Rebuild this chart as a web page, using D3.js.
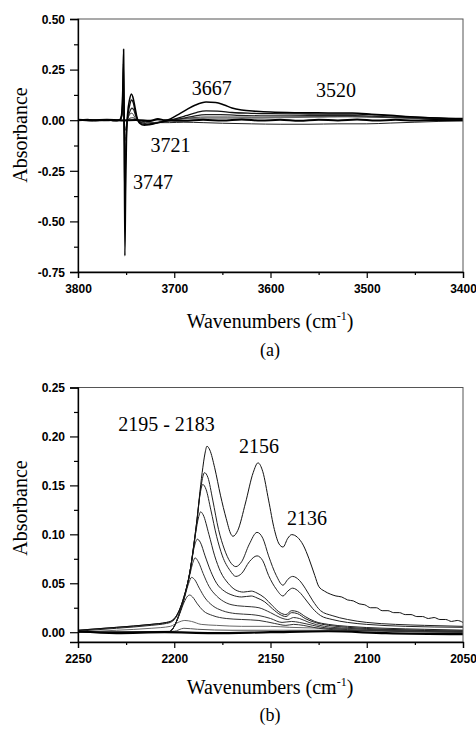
<!DOCTYPE html>
<html>
<head>
<meta charset="utf-8">
<script src="https://cdn.jsdelivr.net/npm/d3@7"></script>
<style>
  html, body { margin: 0; padding: 0; background: #fff; }
  svg { display: block; }
</style>
</head>
<body>
<svg id="chart" width="476" height="729"></svg>
<script>
// ---------- Panel (a): OH region ----------
const wnDomainA = [3800, 3400];
const absDomainA = [-0.75, 0.5];
const xTicksA = [3800, 3700, 3600, 3500, 3400];
const xMinorA = [3750, 3650, 3550, 3450];
const yTicksA = [-0.75, -0.5, -0.25, 0, 0.25, 0.5];
const yMinorA = [-0.625, -0.375, -0.125, 0.125, 0.375];
const peakLabelsA = [
  { text: "3667", wn: 3661, abs: 0.125 },
  { text: "3520", wn: 3532, abs: 0.115 },
  { text: "3721", wn: 3704, abs: -0.157 },
  { text: "3747", wn: 3722, abs: -0.34 }
];

const ohA1 = [[3800,0.0],[3790,0.003],[3780,-0.002],[3770,0.002],[3762,-0.003],[3757,0.0],[3755,0.02],[3753.5,0.15],[3752.6,0.35],[3752.1,0.1],[3751.3,-0.67],[3750.5,-0.35],[3749.5,-0.06],[3748.5,0.03],[3746.5,0.1],[3744.5,0.13],[3743,0.115],[3741,0.07],[3739,0.02],[3736,-0.015],[3731,-0.025],[3726,-0.022],[3721,-0.018],[3716,-0.012],[3710,-0.004],[3704,0.006],[3697,0.025],[3688,0.05],[3678,0.075],[3667,0.09],[3657,0.088],[3648,0.075],[3640,0.06],[3630,0.05],[3615,0.044],[3600,0.04],[3570,0.037],[3540,0.036],[3515,0.035],[3495,0.03],[3475,0.024],[3455,0.017],[3435,0.012],[3415,0.009],[3400,0.008]];
const ohA2 = [[3800,0.002],[3785,-0.002],[3770,0.001],[3760,-0.002],[3756,0.0],[3754,0.05],[3752.8,0.28],[3752.2,0.05],[3751.5,-0.37],[3750.5,-0.18],[3749.5,-0.03],[3748,0.03],[3746,0.08],[3744.5,0.1],[3742.5,0.085],[3740.5,0.04],[3738,0.0],[3734,-0.018],[3728,-0.022],[3721,-0.016],[3714,-0.01],[3706,-0.002],[3698,0.008],[3688,0.022],[3677,0.038],[3667,0.046],[3655,0.045],[3640,0.038],[3620,0.034],[3600,0.032],[3570,0.031],[3540,0.03],[3510,0.03],[3490,0.026],[3470,0.02],[3450,0.015],[3430,0.011],[3400,0.007]];
const ohA3 = [[3800,-0.002],[3785,0.001],[3770,-0.002],[3760,0.001],[3756,0.0],[3754,0.04],[3753,0.18],[3752.3,0.02],[3751,-0.21],[3750,-0.12],[3749,-0.02],[3747.5,0.02],[3745.5,0.05],[3744,0.06],[3742,0.05],[3740,0.02],[3737,-0.005],[3732,-0.015],[3726,-0.018],[3720,-0.014],[3712,-0.008],[3704,-0.002],[3695,0.006],[3682,0.018],[3667,0.028],[3652,0.028],[3635,0.024],[3610,0.022],[3580,0.022],[3550,0.023],[3520,0.024],[3495,0.02],[3470,0.015],[3445,0.01],[3420,0.006],[3400,0.004]];
const ohA4 = [[3800,0.0],[3780,0.002],[3765,-0.001],[3757,0.0],[3754.5,0.03],[3753.3,0.1],[3752.5,0.0],[3751,-0.1],[3749.8,-0.05],[3748.5,0.0],[3746,0.03],[3744,0.035],[3741,0.015],[3737,-0.005],[3730,-0.012],[3722,-0.012],[3714,-0.007],[3705,-0.001],[3690,0.008],[3667,0.016],[3645,0.016],[3620,0.015],[3590,0.016],[3560,0.017],[3530,0.018],[3500,0.016],[3470,0.012],[3440,0.008],[3400,0.003]];
const ohA5 = [[3800,0.0],[3775,-0.002],[3760,0.0],[3755,0.01],[3753,0.05],[3752,0.0],[3750.5,-0.05],[3749,-0.01],[3746,0.01],[3743,0.012],[3738,0.0],[3730,-0.008],[3720,-0.012],[3705,-0.012],[3690,-0.01],[3670,-0.012],[3650,-0.015],[3620,-0.018],[3590,-0.02],[3560,-0.02],[3530,-0.018],[3500,-0.018],[3475,-0.014],[3450,-0.01],[3425,-0.006],[3400,-0.003]];
const ohA6 = [[3800,0.002],[3785,-0.001],[3770,0.002],[3755,-0.001],[3740,0.001],[3725,-0.004],[3717,0.006],[3710,0.0],[3690,-0.003],[3670,0.002],[3650,-0.002],[3630,0.003],[3610,-0.002],[3590,0.002],[3570,-0.003],[3550,0.002],[3530,-0.001],[3510,0.003],[3490,-0.002],[3470,0.002],[3450,-0.002],[3430,0.001],[3400,0.0]];
const ohA7 = [[3800,0.0],[3760,0.0],[3740,0.0],[3720,0.0],[3700,0.004],[3667,0.01],[3630,0.01],[3590,0.012],[3550,0.015],[3520,0.018],[3490,0.015],[3460,0.01],[3430,0.006],[3400,0.003]];

// ---------- Panel (b): CO region ----------
const wnDomainB = [2250, 2050];
const absDomainB = [-0.01, 0.25];
const xTicksB = [2250, 2200, 2150, 2100, 2050];
const xMinorB = [2225, 2175, 2125, 2075];
const yTicksB = [0, 0.05, 0.1, 0.15, 0.2, 0.25];
const yMinorB = [0.025, 0.075, 0.125, 0.175, 0.225];
const peakLabelsB = [
  { text: "2195 - 2183", wn: 2204, abs: 0.206 },
  { text: "2156", wn: 2156, abs: 0.183 },
  { text: "2136", wn: 2131, abs: 0.11 }
];

const coB1 = [[2250,0.002],[2230,0.005],[2212,0.008],[2204,0.01],[2202,0.011],[2199.5,0.015],[2197.5,0.022],[2195,0.036],[2192,0.06],[2188.5,0.11],[2185.5,0.163],[2184,0.183],[2183,0.19],[2181.5,0.186],[2179,0.168],[2176,0.14],[2173,0.116],[2170.5,0.1],[2169.5,0.098],[2167,0.104],[2163,0.132],[2159,0.163],[2156.5,0.173],[2154,0.164],[2151,0.135],[2148,0.105],[2145.5,0.09],[2143.5,0.087],[2141,0.096],[2139,0.0997],[2136,0.097],[2133,0.089],[2130,0.075],[2127,0.058],[2125,0.047],[2122,0.042],[2119,0.039],[2116,0.037],[2113,0.036],[2110,0.033],[2107,0.032],[2104,0.029],[2101,0.028],[2098,0.025],[2095,0.025],[2092,0.022],[2089,0.022],[2086,0.02],[2083,0.02],[2080,0.018],[2077,0.018],[2074,0.016],[2071,0.016],[2068,0.014],[2065,0.015],[2062,0.013],[2059,0.013],[2056,0.011],[2053,0.012],[2050,0.01]];
const coB2 = [[2250,0.002],[2230,0.005],[2212,0.008],[2204,0.01],[2202,0.011],[2199.5,0.015],[2197.5,0.022],[2195,0.036],[2192,0.06],[2188.5,0.11],[2186,0.15],[2184.3,0.163],[2182.5,0.158],[2180,0.135],[2177,0.105],[2174,0.085],[2171,0.072],[2168,0.067],[2165,0.072],[2161,0.09],[2157,0.102],[2154,0.096],[2151,0.078],[2147,0.058],[2143.5,0.048],[2141,0.054],[2138.5,0.057],[2135,0.053],[2132,0.045],[2128,0.032],[2124,0.022],[2118,0.017],[2110,0.013],[2100,0.01],[2085,0.008],[2070,0.007],[2050,0.006]];
const coB3 = [[2250,0.001],[2230,0.004],[2212,0.007],[2204,0.009],[2202,0.01],[2199.5,0.014],[2197.5,0.021],[2195,0.035],[2192,0.06],[2188.5,0.108],[2186.5,0.142],[2185.2,0.151],[2183.5,0.146],[2181,0.125],[2178,0.098],[2175,0.078],[2171,0.063],[2168,0.057],[2165,0.06],[2161,0.072],[2157,0.078],[2154,0.073],[2151,0.058],[2147,0.044],[2143.5,0.037],[2141,0.042],[2138.5,0.045],[2135,0.041],[2132,0.034],[2128,0.024],[2124,0.017],[2118,0.013],[2110,0.01],[2100,0.008],[2080,0.006],[2050,0.005]];
const coB4 = [[2250,0.0],[2220,0.0],[2204,0.0],[2202,0.001],[2199.5,0.008],[2197.5,0.018],[2195,0.034],[2192,0.06],[2189,0.1],[2187.3,0.118],[2186.3,0.123],[2185,0.12],[2182,0.1],[2179,0.078],[2176,0.062],[2172,0.05],[2168,0.043],[2164,0.041],[2160,0.042],[2157,0.04],[2153,0.035],[2149,0.027],[2145,0.02],[2142,0.018],[2139,0.022],[2136,0.021],[2132,0.016],[2127,0.011],[2120,0.008],[2110,0.006],[2090,0.004],[2070,0.003],[2050,0.002]];
const coB5 = [[2250,0.0],[2220,0.0],[2204,0.0],[2202,0.001],[2199.5,0.008],[2197.5,0.018],[2195,0.034],[2192,0.06],[2189.5,0.088],[2188,0.095],[2186.5,0.092],[2184,0.078],[2181,0.062],[2178,0.05],[2174,0.042],[2170,0.038],[2165,0.036],[2160,0.037],[2157,0.035],[2153,0.031],[2149,0.024],[2145,0.018],[2142,0.016],[2139,0.02],[2136,0.019],[2132,0.014],[2127,0.01],[2120,0.007],[2110,0.005],[2090,0.003],[2050,0.001]];
const coB6 = [[2250,0.0],[2204,0.0],[2202,0.001],[2199.5,0.008],[2197.5,0.018],[2195,0.034],[2192,0.058],[2190,0.073],[2189.2,0.076],[2187.5,0.072],[2185,0.06],[2182,0.047],[2178,0.037],[2173,0.03],[2167,0.027],[2160,0.026],[2156,0.025],[2150,0.02],[2145,0.015],[2141,0.013],[2138,0.015],[2135,0.014],[2130,0.01],[2122,0.006],[2110,0.004],[2090,0.002],[2050,0.0]];
const coB7 = [[2250,0.0],[2204,0.0],[2202,0.001],[2199.5,0.008],[2197.5,0.018],[2195,0.033],[2192.5,0.05],[2191,0.056],[2189.5,0.054],[2187,0.045],[2184,0.035],[2180,0.027],[2175,0.022],[2168,0.019],[2160,0.018],[2156,0.017],[2150,0.014],[2144,0.01],[2139,0.011],[2135,0.01],[2128,0.007],[2120,0.004],[2100,0.002],[2050,0.0]];
const coB8 = [[2250,0.0],[2204,0.0],[2202,0.001],[2199.5,0.008],[2197.5,0.017],[2195,0.03],[2193,0.037],[2192,0.038],[2190.5,0.036],[2188,0.029],[2185,0.022],[2180,0.017],[2173,0.014],[2165,0.013],[2156,0.012],[2148,0.009],[2142,0.007],[2138,0.008],[2133,0.007],[2125,0.004],[2110,0.002],[2050,0.0]];
const coB9 = [[2250,0.0],[2230,0.002],[2212,0.004],[2202,0.006],[2198,0.01],[2194.5,0.012],[2191,0.011],[2186,0.008],[2178,0.007],[2165,0.006],[2150,0.006],[2140,0.005],[2120,0.004],[2100,0.003],[2050,0.002]];
const coB10 = [[2250,0.0],[2200,0.001],[2195,0.004],[2188,0.003],[2170,0.002],[2120,0.002],[2050,0.001]];
const coB11 = [[2250,0.001],[2230,-0.001],[2205,0.0],[2180,-0.001],[2150,0.0],[2120,0.001],[2090,-0.001],[2050,-0.002]];

// ---------- drawing ----------
const SERIF = "'Liberation Serif', 'DejaVu Serif', serif";
const SANS = "'Liberation Sans', Arial, sans-serif";
const svg = d3.select("#chart");
svg.append("rect").attr("width", 476).attr("height", 729).attr("fill", "#fff");

const plotLeft = 78, plotRight = 463;

function serifText(sel, size) {
  return sel.append("text").attr("font-family", SERIF).style("font-family", SERIF)
    .attr("font-size", size).attr("fill", "#000");
}

function panel(cfg) {
  const x = d3.scaleLinear().domain(cfg.xDomain).range([plotLeft, plotRight]);
  const y = d3.scaleLinear().domain(cfg.yDomain).range([cfg.bottom, cfg.top]);
  const g = svg.append("g");
  const clipId = "clip" + cfg.id;
  svg.append("clipPath").attr("id", clipId).append("rect")
    .attr("x", plotLeft).attr("y", cfg.top).attr("width", plotRight - plotLeft).attr("height", cfg.bottom - cfg.top);

  const line = d3.line().x(d => x(d[0])).y(d => y(d[1])).curve(d3.curveMonotoneX);
  const lines = g.append("g").attr("clip-path", `url(#${clipId})`);
  cfg.series.forEach(s => {
    lines.append("path").datum(s.data).attr("d", line)
      .attr("fill", "none").attr("stroke", s.color).attr("stroke-width", s.width)
      .attr("stroke-linejoin", "round");
  });

  g.append("rect").attr("x", plotLeft).attr("y", cfg.top)
    .attr("width", plotRight - plotLeft).attr("height", cfg.bottom - cfg.top)
    .attr("fill", "none").attr("stroke", "#555").attr("stroke-width", 1);

  const fmt = d => d.toFixed(cfg.decimals);
  const xAxis = g.append("g").attr("transform", `translate(0,${cfg.bottom})`)
    .call(d3.axisBottom(x).tickValues(cfg.xTicks).tickFormat(d3.format("d")).tickSizeOuter(0).tickSize(6).tickPadding(6));
  g.append("g").attr("transform", `translate(0,${cfg.bottom})`)
    .call(d3.axisBottom(x).tickValues(cfg.xMinor).tickFormat("").tickSizeOuter(0).tickSize(3))
    .call(a => a.select(".domain").remove());
  const yAxis = g.append("g").attr("transform", `translate(${plotLeft},0)`)
    .call(d3.axisLeft(y).tickValues(cfg.yTicks).tickFormat(fmt).tickSizeOuter(0).tickSize(8).tickPadding(5));
  g.append("g").attr("transform", `translate(${plotLeft},0)`)
    .call(d3.axisLeft(y).tickValues(cfg.yMinor).tickFormat("").tickSizeOuter(0).tickSize(4))
    .call(a => a.select(".domain").remove());
  g.selectAll(".domain").attr("stroke", "#000").attr("stroke-width", 1.3);
  g.selectAll(".tick line").attr("stroke", "#000").attr("stroke-width", 1.2);
  g.selectAll(".tick text").attr("font-family", SANS).style("font-family", SANS)
    .attr("font-weight", "bold").style("font-weight", "bold").attr("font-size", 12).attr("fill", "#000");
  xAxis.selectAll("text").attr("dy", "0.71em");
  yAxis.selectAll("text").attr("dy", "0.36em");

  cfg.labels.forEach(l => {
    serifText(g, 20).attr("x", x(l.wn)).attr("y", y(l.abs)).attr("text-anchor", "middle").text(l.text);
  });

  const xt = serifText(g, 20).attr("x", 270).attr("y", cfg.bottom + cfg.titleOffset).attr("text-anchor", "middle");
  xt.append("tspan").text("Wavenumbers (cm");
  xt.append("tspan").attr("font-size", 12).attr("dy", -8).text("-1");
  xt.append("tspan").attr("dy", 8).text(")");

  serifText(g, 20)
    .attr("transform", `translate(27,${cfg.yTitleCenter}) rotate(-90)`)
    .attr("text-anchor", "middle").text("Absorbance");

  serifText(g, 18).attr("x", 270).attr("y", cfg.bottom + cfg.captionOffset).attr("text-anchor", "middle").text(cfg.caption);
}

panel({
  id: "a", top: 19, bottom: 272,
  xDomain: wnDomainA, yDomain: absDomainA,
  xTicks: xTicksA, xMinor: xMinorA, yTicks: yTicksA, yMinor: yMinorA, decimals: 2,
  labels: peakLabelsA, yTitleCenter: 135, caption: "(a)", titleOffset: 56, captionOffset: 84,
  series: [
    { data: ohA7, color: "#777", width: 1.2 },
    { data: ohA5, color: "#222", width: 1 },
    { data: ohA4, color: "#444", width: 1 },
    { data: ohA3, color: "#222", width: 1.2 },
    { data: ohA2, color: "#111", width: 1.3 },
    { data: ohA6, color: "#000", width: 2 },
    { data: ohA1, color: "#000", width: 1.5 }
  ]
});

panel({
  id: "b", top: 387.5, bottom: 642,
  xDomain: wnDomainB, yDomain: absDomainB,
  xTicks: xTicksB, xMinor: xMinorB, yTicks: yTicksB, yMinor: yMinorB, decimals: 2,
  labels: peakLabelsB, yTitleCenter: 508, caption: "(b)", titleOffset: 52, captionOffset: 79,
  series: [
    { data: coB9, color: "#666", width: 1 },
    { data: coB10, color: "#555", width: 1 },
    { data: coB8, color: "#333", width: 1 },
    { data: coB7, color: "#333", width: 1 },
    { data: coB6, color: "#333", width: 1 },
    { data: coB5, color: "#222", width: 1 },
    { data: coB4, color: "#222", width: 1 },
    { data: coB3, color: "#222", width: 1 },
    { data: coB2, color: "#222", width: 1 },
    { data: coB1, color: "#111", width: 1 },
    { data: coB11, color: "#000", width: 2.2 }
  ]
});
</script>
</body>
</html>
